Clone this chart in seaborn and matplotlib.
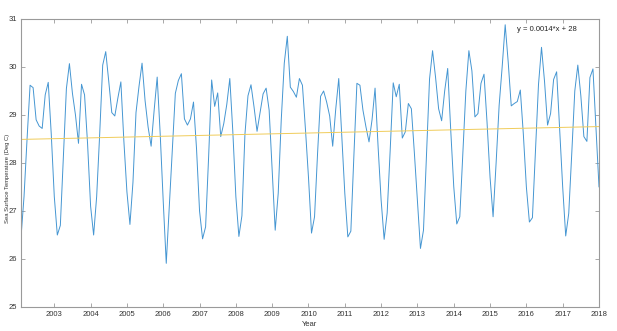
import numpy as np
import pandas as pd
import matplotlib
matplotlib.use("Agg")
import matplotlib.pyplot as plt
import seaborn as sns

# Monthly sea surface temperature (deg C), Jan 2002 .. Dec 2017
sst = [
    26.45, 27.3, 28.5, 29.62, 29.57, 28.9, 28.77, 28.72, 29.42, 29.68, 28.6, 27.3,
    26.5, 26.7, 28.1, 29.55, 30.07, 29.45, 29.0, 28.41, 29.64, 29.42, 28.4, 27.1,
    26.5, 27.3, 28.6, 30.04, 30.32, 29.7, 29.05, 28.98, 29.35, 29.69, 28.45, 27.4,
    26.72, 27.6, 29.05, 29.6, 30.08, 29.3, 28.75, 28.35, 29.1, 29.79, 28.6, 27.2,
    25.91, 27.1, 28.27, 29.45, 29.72, 29.86, 28.92, 28.79, 28.92, 29.27, 28.3, 27.0,
    26.42, 26.67, 28.13, 29.73, 29.18, 29.46, 28.55, 28.82, 29.22, 29.76, 28.65, 27.3,
    26.47, 26.9, 28.6, 29.4, 29.63, 29.17, 28.66, 29.05, 29.44, 29.56, 29.1, 27.85,
    26.6, 27.37, 28.9, 30.08, 30.64, 29.58, 29.49, 29.37, 29.76, 29.62, 28.7, 27.7,
    26.54, 26.88, 28.2, 29.39, 29.5, 29.27, 28.98, 28.35, 29.12, 29.76, 28.55, 27.37,
    26.46, 26.58, 28.15, 29.66, 29.62, 29.1, 28.75, 28.44, 28.9, 29.56, 28.34, 27.23,
    26.41, 26.96, 28.27, 29.67, 29.38, 29.64, 28.52, 28.65, 29.24, 29.13, 28.2, 27.2,
    26.22, 26.6, 28.2, 29.75, 30.34, 29.78, 29.13, 28.88, 29.5, 29.97, 28.69, 27.51,
    26.73, 26.88, 28.2, 29.5, 30.34, 29.92, 28.96, 29.03, 29.66, 29.85, 28.85, 27.7,
    26.88, 28.0, 29.2, 30.0, 30.88, 30.1, 29.19, 29.24, 29.28, 29.52, 28.6, 27.5,
    26.77, 26.86, 28.25, 29.63, 30.41, 29.7, 28.79, 29.03, 29.74, 29.9, 28.68, 27.5,
    26.48, 26.95, 28.2, 29.5, 30.04, 29.4, 28.55, 28.45, 29.78, 29.96, 28.75, 27.5,
]
start_year = 2002
year_ticks = list(range(2003, 2019))
temp_ticks = [25, 26, 27, 28, 29, 30, 31]

# Linear trend against month number
trend_slope = 0.0014
trend_intercept = 28.49

month = np.arange(1, len(sst) + 1)
df = pd.DataFrame({
    "year": start_year + month / 12.0,
    "sst": sst,
    "trend": trend_intercept + trend_slope * month,
})

sns.set_theme(style="white")
plt.rcParams["font.family"] = ["Liberation Sans", "DejaVu Sans"]

fig = plt.figure(figsize=(6.17, 3.31), dpi=100)
ax = fig.add_axes([21 / 617, 24 / 331, 578 / 617, 288 / 331])

sns.lineplot(data=df, x="year", y="sst", ax=ax, color="#4596d2", linewidth=0.7)
sns.lineplot(data=df, x="year", y="trend", ax=ax, color="#f0cc5a", linewidth=0.7)

ax.set_xlim(df["year"].iloc[0], df["year"].iloc[-1])
ax.set_ylim(25, 31)
ax.set_xticks(year_ticks)
ax.set_xticklabels([str(y) for y in year_ticks])
ax.set_yticks(temp_ticks)
ax.set_yticklabels([str(t) for t in temp_ticks])

ax.set_xlabel("Year", fontsize=5.5, color="#333333", labelpad=2)
ax.set_ylabel("Sea Surface Temperature (Deg C)", fontsize=4.2, color="#333333")
ax.yaxis.set_label_coords(-0.0195, 0.445)

for s in ax.spines.values():
    s.set_visible(True)
    s.set_color("#9a9a9a")
    s.set_linewidth(0.8)
ax.tick_params(direction="in", length=3, width=0.6, color="#9a9a9a",
               labelsize=5.5, labelcolor="#333333", pad=3,
               top=True, right=True, bottom=True, left=True)

label = f"y = {trend_slope:.2g}*x + {trend_intercept:.2g}"
ax.text(2015.75, 30.78, label, fontsize=5.5, color="#222222", va="center", ha="left")

fig.savefig("out.png", dpi=100, facecolor="white")
